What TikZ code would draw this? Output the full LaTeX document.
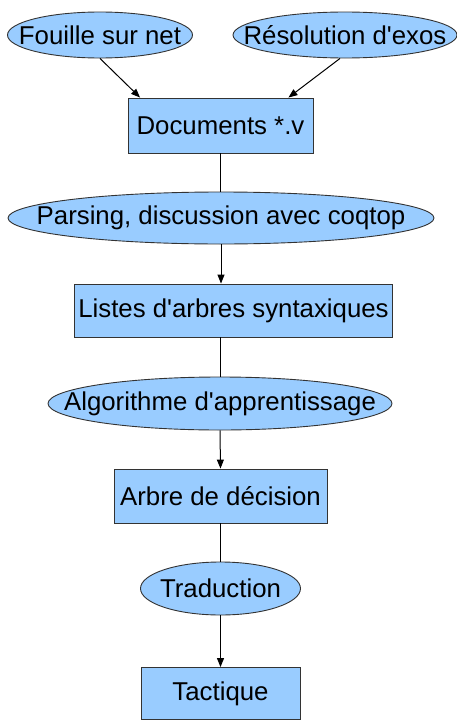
\documentclass[tikz,border=0pt]{standalone}
\usepackage{fontspec}
\newfontfamily\lib{Liberation Sans}
\usetikzlibrary{shapes.geometric,arrows.meta,calc}
\definecolor{nodefill}{HTML}{99CCFF}
\definecolor{nodeline}{HTML}{333333}
\begin{document}
\begin{tikzpicture}[x=1pt,y=-1pt,
  txt/.style={inner sep=0pt, font=\lib\fontsize{25.8}{30}\selectfont, text=black},
  base/.style={draw=nodeline, line width=0.9pt, fill=nodefill, inner sep=0pt,
    font=\lib\fontsize{25.8}{30}\selectfont, text=black},
  ell/.style={base, ellipse},
  bx/.style={base, rectangle},
  conn/.style={line width=1pt, black},
  arr/.style={conn, -{Triangle[length=9pt,width=7pt]}}]
\useasboundingbox (0,0) rectangle (457,720);
\fill[white] (0,0) rectangle (457,720);
\node[ell, minimum width=185pt, minimum height=46pt] (f) at (100,35) {};
\node[txt] (ft) at (f.center) {Fouille sur net};
\node[ell, minimum width=224pt, minimum height=46pt] (r) at (345,35) {};
\node[txt] (rt) at (r.center) {Résolution d'exos};
\node[bx, minimum width=185pt, minimum height=55pt] (d) at (220.5,125.5) {Documents *.v};
\node[ell, minimum width=426pt, minimum height=52pt] (p) at (221,218) {};
\node[txt] (pt) at (p.center) {Parsing, discussion avec coqtop};
\node[bx, minimum width=318pt, minimum height=53pt] (l) at (233.5,310.5) {Listes d'arbres syntaxiques};
\node[ell, minimum width=344pt, minimum height=53pt] (a) at (220,403.5) {};
\node[txt] (at) at (a.center) {Algorithme d'apprentissage};
\node[bx, minimum width=213pt, minimum height=54pt] (b) at (220.5,496) {Arbre de décision};
\node[ell, minimum width=160pt, minimum height=53pt] (t) at (220.5,588.5) {};
\node[txt] (tt) at (t.center) {Traduction};
\node[bx, minimum width=159pt, minimum height=52pt] (tac) at (220.5,693.5) {Tactique};
\coordinate (dl) at ($(d.north west)+(12.5,0)$);
\coordinate (dr) at ($(d.north east)+(-25,0)$);
\coordinate (rs) at ($(r.south)+(-5,0)$);
\draw[arr] (f.south) -- (dl);
\draw[arr] (rs) -- (dr);
\draw[conn] (d.south) -- (d.south |- p.north);
\draw[arr] (p.south) -- (p.south |- l.north);
\draw[conn] (l.south -| a.north) -- (a.north);
\draw[arr] (a.south) -- (b.north);
\draw[conn] (b.south) -- (t.north);
\draw[arr] (t.south) -- (tac.north);
\end{tikzpicture}
\end{document}
